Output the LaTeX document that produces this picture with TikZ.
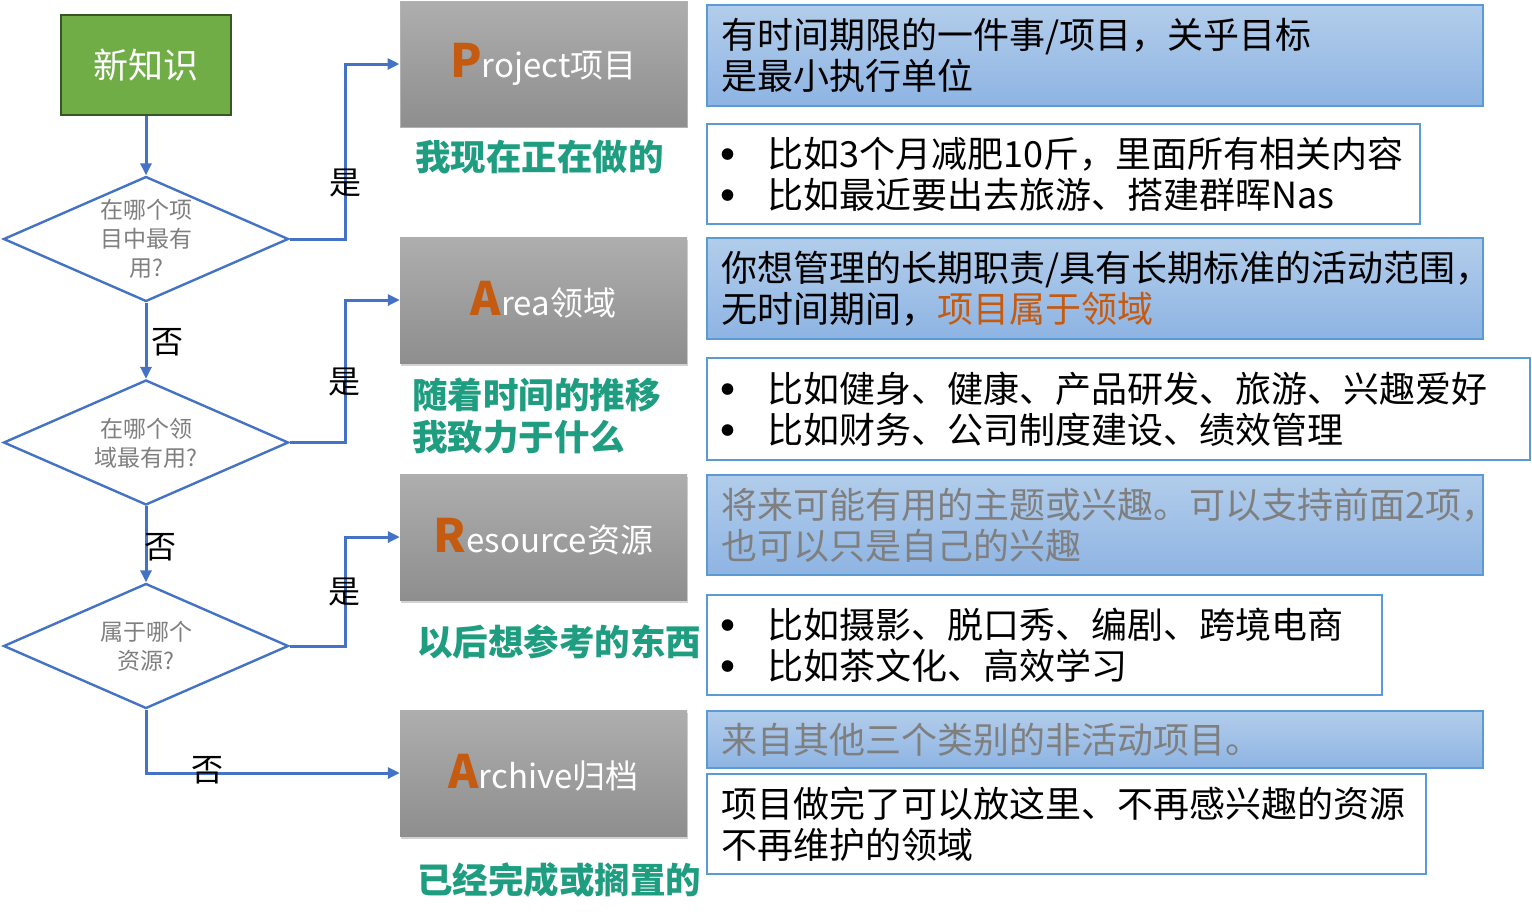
\documentclass[tikz,border=0pt]{standalone}
\usepackage{fontspec}
\setmainfont{Noto Sans CJK SC}
\usetikzlibrary{arrows.meta,shapes.geometric,shadows}

\definecolor{flow}{HTML}{4472C4}
\definecolor{leaf}{HTML}{70AD47}
\definecolor{leafline}{HTML}{375623}
\definecolor{accent}{HTML}{C55A11}
\definecolor{tealtext}{RGB}{30,157,128}
\definecolor{boxline}{HTML}{5B9BD5}
\definecolor{skytop}{HTML}{B2CDEB}
\definecolor{skybot}{HTML}{8EB4E3}
\definecolor{greytop}{HTML}{AEAEAE}
\definecolor{greybot}{HTML}{8E8E8E}
\definecolor{softtext}{HTML}{7F7F7F}

\newcommand\bigletter[1]{{\color{accent}\bfseries\fontsize{46}{46}\selectfont #1}}
\newcommand\dotitem{\makebox[46pt][l]{\raisebox{8pt}{\fontsize{13}{13}\selectfont ●}}}

\tikzset{
  arr/.style={draw=flow, line width=3pt, -{Triangle[length=12pt,width=11pt]}},
  startbox/.style={rectangle, fill=leaf, draw=leafline, line width=2.5pt,
    minimum width=170pt, minimum height=100pt, inner sep=0pt,
    text=white, font=\fontsize{35}{35}\selectfont},
  choice/.style={diamond, draw=flow, line width=2.4pt, fill=white,
    minimum width=285pt, minimum height=125pt, inner sep=0pt},
  choicetext/.style={align=center, text=softtext, inner sep=0pt,
    font=\fontsize{23}{29}\selectfont},
  stage/.style={rectangle, minimum width=287pt, minimum height=126pt,
    top color=greytop, bottom color=greybot, inner sep=0pt,
    text=white, font=\fontsize{33}{33}\selectfont},
  lifted/.style={drop shadow={shadow xshift=1pt, shadow yshift=-3pt, opacity=0.35}},
  caption/.style={anchor=west, align=left, inner sep=0pt, text=tealtext,
    font=\bfseries\fontsize{35.5}{42}\selectfont},
  sky/.style={rectangle, draw=boxline, line width=1.2pt,
    top color=skytop, bottom color=skybot, inner sep=0pt},
  plainbox/.style={rectangle, draw=boxline, line width=2pt, fill=white, inner sep=0pt},
  note/.style={anchor=west, align=left, inner sep=0pt,
    font=\fontsize{36}{41}\selectfont},
  answer/.style={inner sep=0pt, font=\fontsize{32}{32}\selectfont},
}

\begin{document}
\begin{tikzpicture}[x=1pt, y=-1pt]
\fill[white] (0,0) rectangle (1532,922);
\useasboundingbox (0,0) rectangle (1532,922);

% start and decisions
\node[startbox] (new) at (146,65) {新知识};
\node[choice] (d1) at (146,239) {};
\node[choicetext] (d1t) at (146,239) {在哪个项\\目中最有\\用?};
\node[choice] (d2) at (146,442.5) {};
\node[choicetext] (d2t) at (146,443) {在哪个领\\域最有用?};
\node[choice] (d3) at (146,646) {};
\node[choicetext] (d3t) at (146,646) {属于哪个\\资源?};

% the four categories
\node[stage, draw=gray!60, line width=1pt] (proj) at (543.5,64) {\bigletter{P}roject项目};
\node[stage, lifted] (area) at (543.5,300) {\bigletter{A}rea领域};
\node[stage, lifted] (res) at (543.5,537) {\bigletter{R}esource资源};
\node[stage, lifted] (arch) at (543.5,773) {\bigletter{A}rchive归档};

\node[caption] (c1) at (415,157) {我现在正在做的};
\node[caption] (c2) at (412,416) {随着时间的推移\\我致力于什么};
\node[caption] (c3) at (417,642) {以后想参考的东西};
\node[caption] (c4) at (417,880) {已经完成或搁置的};

% connectors
\draw[arr] (new.south) -- (d1.north);
\draw[arr] (d1.south) -- (d2.north);
\draw[arr] (d2.south) -- (d3.north);
\draw[arr] (d1.east) -- (345,239) |- (proj.west);
\draw[arr] (d2.east) -- (345,442.5) |- (area.west);
\draw[arr] (d3.east) -- (345,646) |- (res.west);
\draw[arr] (d3.south) |- (arch.west);

\node[answer] (y1) at (345,183) {是};
\node[answer] (y2) at (344,382) {是};
\node[answer] (y3) at (344,592) {是};
\node[answer] (n1) at (167,342) {否};
\node[answer] (n2) at (160,547) {否};
\node[answer] (n3) at (207,770) {否};

% descriptions
\node[sky, minimum width=776pt, minimum height=101pt] (b1) at (1095,55.5) {};
\node[note] (b1t) at ([xshift=15pt]b1.west) {有时间期限的一件事/项目，关乎目标\\是最小执行单位};
\node[plainbox, minimum width=713pt, minimum height=100pt] (w1) at (1063.5,174) {};
\node[note] (w1t) at ([xshift=15pt]w1.west) {\dotitem 比如3个月减肥10斤，里面所有相关内容\\\dotitem 比如最近要出去旅游、搭建群晖Nas};

\node[sky, minimum width=776pt, minimum height=101pt] (b2) at (1095,288.5) {};
\node[note] (b2t) at ([xshift=15pt]b2.west) {你想管理的长期职责/具有长期标准的活动范围，\\无时间期间，{\color{accent}项目属于领域}};
\node[plainbox, minimum width=823pt, minimum height=102pt] (w2) at (1118.5,409) {};
\node[note] (w2t) at ([xshift=15pt]w2.west) {\dotitem 比如健身、健康、产品研发、旅游、兴趣爱好\\\dotitem 比如财务、公司制度建设、绩效管理};

\node[sky, minimum width=776pt, minimum height=100pt] (b3) at (1095,525) {};
\node[note, text=softtext] (b3t) at ([xshift=15pt]b3.west) {将来可能有用的主题或兴趣。可以支持前面2项，\\也可以只是自己的兴趣};
\node[plainbox, minimum width=675pt, minimum height=100pt] (w3) at (1044.5,645) {};
\node[note] (w3t) at ([xshift=15pt]w3.west) {\dotitem 比如摄影、脱口秀、编剧、跨境电商\\\dotitem 比如茶文化、高效学习};

\node[sky, minimum width=776pt, minimum height=57pt] (b4) at (1095,739.5) {};
\node[note, text=softtext] (b4t) at ([xshift=15pt]b4.west) {来自其他三个类别的非活动项目。};
\node[plainbox, minimum width=719pt, minimum height=100pt] (w4) at (1066.5,824) {};
\node[note] (w4t) at ([xshift=15pt]w4.west) {项目做完了可以放这里、不再感兴趣的资源\\不再维护的领域};
\end{tikzpicture}
\end{document}
